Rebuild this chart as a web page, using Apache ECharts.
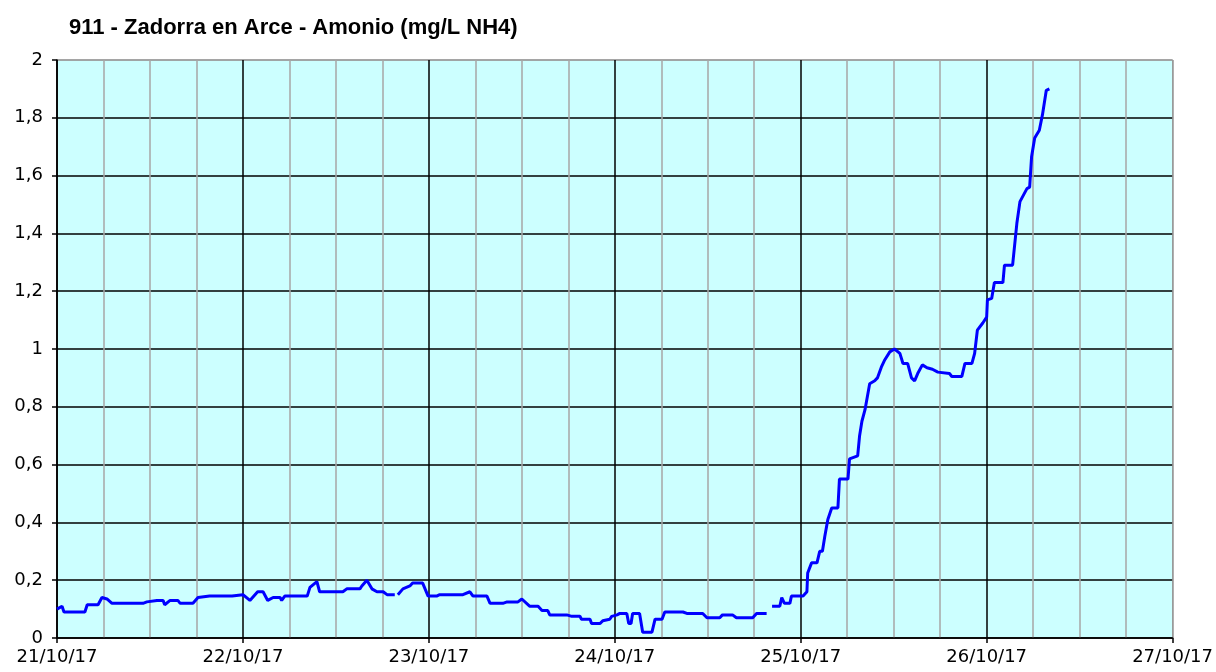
<!DOCTYPE html>
<html>
<head>
<meta charset="utf-8">
<title>911 - Zadorra en Arce - Amonio</title>
<script src="https://cdn.jsdelivr.net/npm/echarts@6/dist/echarts.min.js"></script>
<style>
html, body { margin: 0; padding: 0; background: #fff; }
#chart { width: 1216px; height: 672px; }
</style>
</head>
<body>
<div id="chart"></div>
<script>
// horas desde 21/10/17 00:00 (null = hueco en la serie)
var horas = [
	0, 0.65, 0.9, 3.6, 3.9, 5.3, 5.8, 6.45, 7.1, 11.1, 11.6, 12.9, 13.7, 13.9, 14.6, 15.6, 15.9, 17.55, 18.2, 19.7,
	20, 22.6, 22.7, 24, 24.9, 25.9, 26.6, 27.2, 27.9, 28.8, 29.0, 29.4, 32.3, 32.65, 33.55, 33.9, 36.9, 37.4, 39.1, 39.35,
	40, 40.65, 41.3, 42.1, 42.6, 43.6, 43.8, 44, 44.65, 45.55, 45.9, 47.2, 47.9, 49.0, 49.4, 52.4, 52.65, 53.3, 53.7, 55.5,
	55.9, 57.55, 58.1, 59.5, 60, 61.0, 62.1, 62.6, 63.35, 63.6, 65.8, 65.9, 66.45, 67.5, 67.7, 68.8, 69.0, 70.1, 70.45, 71.35,
	71.6, 72.3, 72.65, 73.55, 73.8, 74.1, 74.3, 75.2, 75.6, 76.8, 77.2, 78.1, 78.45, 80.8, 81.3, 83.35, 83.9, 85.55, 85.9, 87.2,
	87.7, 89.8, 90.3, 91.6, 92.0, 92.3, 93.3, 93.55, 93.9, 94.6, 94.8, 96.3, 96.8, 96.9, 97.4, 98.1, 98.45, 98.8, 99.1, 99.5,
	100, 100.8, 101.0, 102.1, 102.3, 103.35, 103.6, 103.9, 104.3, 104.9, 105.55, 105.9, 106.45, 106.8, 107.5, 108.1, 108.8, 109.2, 109.8, 110.3,
	110.7, 111.1, 111.7, 112.3, 113.0, 113.7, 115.2, 115.5, 116.8, 117.2, 118.1, 118.45, 118.8, 119.5, 120, 120.1, 120.65, 121.0, 122.1, 122.3,
	123.35, 123.9, 124.3, 125.2, 125.55, 125.8, 126.2, 126.8, 127.2, 127.7, 128.1
];
var amonio = [
	0.10, 0.11, 0.09, 0.09, 0.115, 0.115, 0.14, 0.135, 0.12, 0.12, 0.125, 0.13, 0.13, 0.115, 0.13, 0.13, 0.12, 0.12, 0.14, 0.145,
	0.145, 0.145, 0.15, 0.15, 0.13, 0.16, 0.16, 0.13, 0.14, 0.14, 0.13, 0.145, 0.145, 0.175, 0.195, 0.16, 0.16, 0.17, 0.17, 0.18,
	0.20, 0.17, 0.16, 0.16, 0.15, 0.15, null, 0.15, 0.17, 0.18, 0.19, 0.19, 0.145, 0.145, 0.15, 0.15, 0.145, 0.16, 0.145, 0.145,
	0.12, 0.12, 0.125, 0.125, 0.135, 0.11, 0.11, 0.095, 0.095, 0.08, 0.08, 0.085, 0.075, 0.075, 0.065, 0.065, 0.05, 0.05, 0.06, 0.065,
	0.075, 0.08, 0.085, 0.085, 0.05, 0.05, 0.085, 0.085, 0.02, 0.02, 0.065, 0.065, 0.09, 0.09, 0.085, 0.085, 0.07, 0.07, 0.08, 0.08,
	0.07, 0.07, 0.085, 0.085, null, 0.11, 0.11, 0.14, 0.12, 0.12, 0.145, 0.145, 0.16, 0.225, 0.26, 0.26, 0.30, 0.30, 0.35, 0.41,
	0.45, 0.45, 0.55, 0.55, 0.62, 0.63, 0.70, 0.75, 0.79, 0.88, 0.89, 0.90, 0.94, 0.96, 0.99, 1.00, 0.985, 0.95, 0.95, 0.90,
	0.89, 0.915, 0.945, 0.935, 0.93, 0.92, 0.915, 0.905, 0.905, 0.95, 0.95, 0.985, 1.065, 1.09, 1.11, 1.17, 1.175, 1.23, 1.23, 1.29,
	1.29, 1.435, 1.51, 1.555, 1.56, 1.665, 1.73, 1.757, 1.81, 1.895, 1.90
];
var fechas = ['21/10/17', '22/10/17', '23/10/17', '24/10/17', '25/10/17', '26/10/17', '27/10/17'];
var titulo = '911 - Zadorra en Arce - Amonio (mg/L NH4)';

var serie = [];
for (var i = 0; i < horas.length; i++) {
	serie.push([horas[i], amonio[i] === null ? '-' : amonio[i]]);
}

var chart = echarts.init(document.getElementById('chart'));
var option = {
	animation: false,
	backgroundColor: '#fff',
	title: {
		text: titulo,
		left: 64,
		top: 12,
		textStyle: { fontFamily: 'Liberation Sans', fontWeight: 'bold', fontSize: 22, color: '#000' }
	},
	grid: {
		left: 57, right: 43, top: 60, bottom: 34,
		show: true, backgroundColor: '#CCFFFF', borderColor: '#999', borderWidth: 1
	},
	xAxis: {
		type: 'value', min: 0, max: 144, interval: 24,
		axisLine: { lineStyle: { color: '#000', width: 1.5 } },
		axisTick: { show: true, length: 5, lineStyle: { color: '#000', width: 1.5 } },
		axisLabel: {
			margin: 10,
			fontFamily: 'DejaVu Sans', fontSize: 18, color: '#000',
			formatter: function (v) { return fechas[Math.round(v / 24)]; }
		},
		splitLine: { show: true, lineStyle: { color: ['#000', '#000', '#000', '#000', '#000', '#000', '#999'], width: 1.5 } },
		minorTick: { show: false, splitNumber: 4 },
		minorSplitLine: { show: true, lineStyle: { color: '#A6A6A6', width: 1.5 } }
	},
	yAxis: {
		type: 'value', min: 0, max: 2, interval: 0.2,
		axisLine: { show: true, lineStyle: { color: '#000', width: 1.5 } },
		axisTick: { show: true, length: 5, lineStyle: { color: '#000', width: 1.5 } },
		axisLabel: {
			margin: 14,
			fontFamily: 'DejaVu Sans', fontSize: 18, color: '#000',
			formatter: function (v) { return String(Math.round(v * 10) / 10).replace('.', ','); }
		},
		splitLine: { show: true, lineStyle: { color: ['#000', '#000', '#000', '#000', '#000', '#000', '#000', '#000', '#000', '#000', '#999'], width: 1.5 } }
	},
	series: [{
		name: 'Amonio',
		type: 'line',
		data: serie,
		showSymbol: false,
		connectNulls: false,
		lineStyle: { color: '#0000FF', width: 3 },
		itemStyle: { color: '#0000FF' }
	}]
};
chart.setOption(option);
</script>
</body>
</html>
